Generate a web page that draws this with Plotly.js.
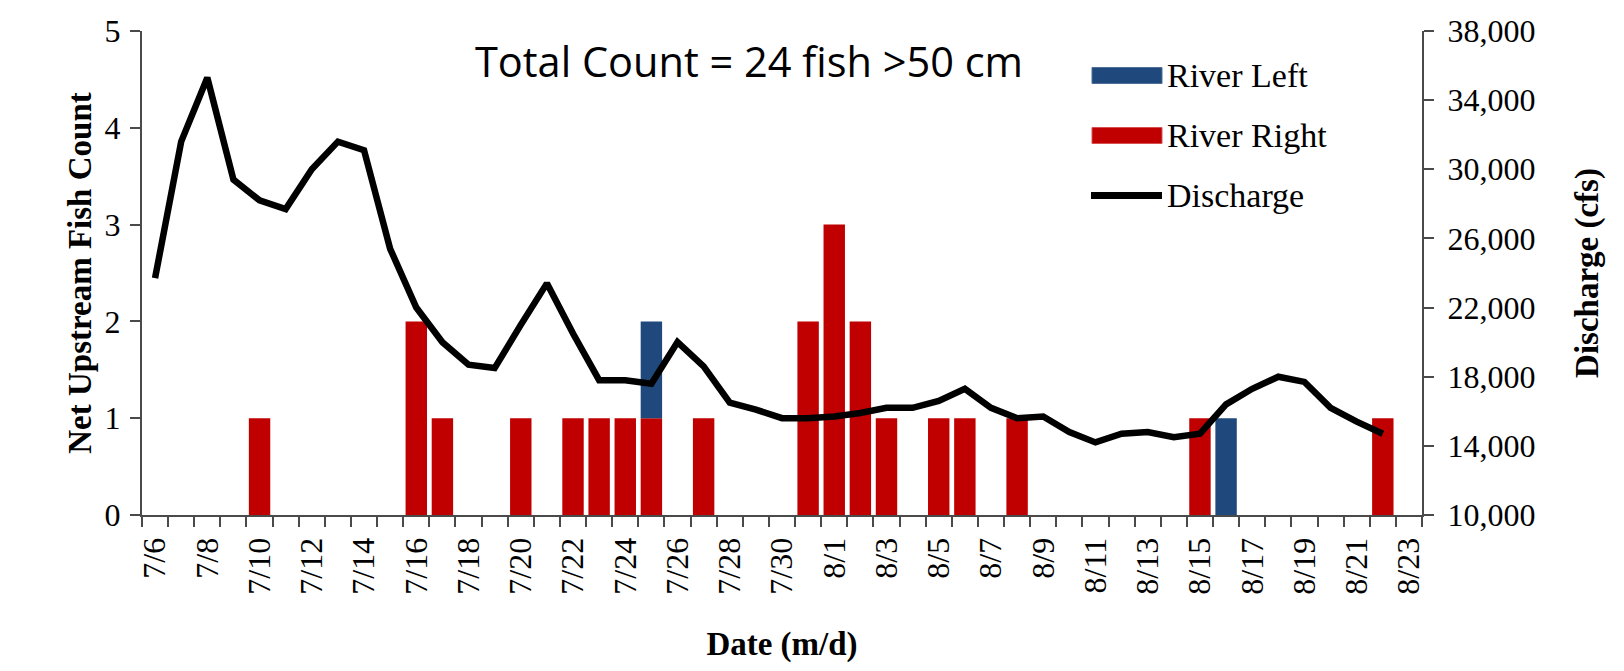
<!DOCTYPE html>
<html>
<head>
<meta charset="utf-8">
<script src="https://cdn.plot.ly/plotly-3.0.1.min.js"></script>
<style>
  html, body { margin: 0; padding: 0; background: #ffffff; }
  #chart { width: 1624px; height: 671px; }
</style>
</head>
<body>
<div id="chart"></div>
<script>
// ---- data ----
const dates = [
  "7/6","7/7","7/8","7/9","7/10","7/11","7/12","7/13","7/14","7/15",
  "7/16","7/17","7/18","7/19","7/20","7/21","7/22","7/23","7/24","7/25",
  "7/26","7/27","7/28","7/29","7/30","7/31","8/1","8/2","8/3","8/4",
  "8/5","8/6","8/7","8/8","8/9","8/10","8/11","8/12","8/13","8/14",
  "8/15","8/16","8/17","8/18","8/19","8/20","8/21","8/22","8/23"
];
const riverRight = [
  0,0,0,0,1,0,-1,0,0,0,
  2,1,0,0,1,0,1,1,1,1,
  0,1,0,0,0,2,3,2,1,0,
  1,1,0,1,0,0,0,0,0,0,
  1,0,0,0,0,0,0,1,0
];
const riverLeft = [
  0,0,0,0,0,0,0,0,0,0,
  0,0,0,0,0,0,0,0,0,1,
  0,0,0,0,0,0,0,0,0,0,
  0,0,0,0,0,0,0,0,0,0,
  0,1,0,0,0,0,0,0,0
];
const discharge = [
  23700,31600,35300,29400,28200,27700,30000,31600,31100,25400,
  22000,20000,18700,18500,21000,23400,20500,17800,17800,17600,
  20000,18600,16500,16100,15600,15600,15700,15900,16200,16200,
  16600,17300,16200,15600,15700,14800,14200,14700,14800,14500,
  14700,16400,17300,18000,17700,16200,15400,14700,null
];
const tickLabels = dates.map((d, i) => (i % 2 === 0 ? d : ""));
const legendNames = ["River Left", "River Right", "Discharge"];
const titleText = "Total Count = 24 fish >50 cm";

// ---- styling ----
const RED = "#C00000";
const BLUE = "#1F497D";
const AXIS = "#4a4a4a";
const SERIF = "'Liberation Serif', 'Times New Roman', serif";

const W = 1624, H = 671;
const M = { l: 142, r: 202, t: 31, b: 156 };
const PW = W - M.l - M.r, PH = H - M.t - M.b;
const px = x => (x - M.l) / PW;
const py = y => (H - M.b - y) / PH;

const traces = [
  { type: "bar", name: legendNames[1], x: dates, y: riverRight,
    marker: { color: RED, line: { width: 0 } }, showlegend: false, hoverinfo: "x+y+name" },
  { type: "bar", name: legendNames[0], x: dates, y: riverLeft,
    marker: { color: BLUE, line: { width: 0 } }, showlegend: false, hoverinfo: "x+y+name" },
  { type: "scatter", mode: "lines", name: legendNames[2], x: dates, y: discharge, yaxis: "y2",
    line: { color: "#000000", width: 6.5 }, showlegend: false }
];

// legend drawn in layout (paper coordinates)
const legRows = [75.5, 135.5, 195.5];
const shapes = [
  { type: "rect", xref: "paper", yref: "paper", x0: px(1092), x1: px(1162),
    y0: py(legRows[0] + 8), y1: py(legRows[0] - 8), fillcolor: BLUE, line: { width: 1, color: "#4f6f99" } },
  { type: "rect", xref: "paper", yref: "paper", x0: px(1092), x1: px(1162),
    y0: py(legRows[1] + 8), y1: py(legRows[1] - 8), fillcolor: RED, line: { width: 1, color: "#d65050" } },
  { type: "line", xref: "paper", yref: "paper", x0: px(1091), x1: px(1162),
    y0: py(legRows[2]), y1: py(legRows[2]), line: { width: 7, color: "#000000" } }
];
const annotations = legendNames.map((n, i) => ({
  xref: "paper", yref: "paper", x: px(1165), y: py(legRows[i]),
  xanchor: "left", yanchor: "middle", showarrow: false, text: n,
  font: { family: SERIF, size: 34, color: "#000000" }
}));

const layout = {
  width: W, height: H,
  margin: M,
  paper_bgcolor: "#ffffff", plot_bgcolor: "#ffffff",
  showlegend: false,
  barmode: "relative",
  bargap: 0.18,
  title: {
    text: titleText,
    font: { family: "'Open Sans', 'Noto Sans', sans-serif", size: 41.5, color: "#000000" },
    x: 749 / W, xanchor: "center", y: 1 - 62 / H, yanchor: "middle"
  },
  xaxis: {
    type: "category",
    range: [-0.5, dates.length - 0.5],
    tickmode: "array", tickvals: dates, ticktext: tickLabels,
    tickson: "boundaries",
    ticks: "outside", ticklen: 10, tickwidth: 2, tickcolor: AXIS,
    showline: true, linecolor: AXIS, linewidth: 2,
    showgrid: false, zeroline: false,
    tickangle: -90,
    ticklabelstandoff: 8,
    tickfont: { family: SERIF, size: 32, color: "#000000" },
    title: { text: "<b>Date (m/d)</b>", font: { family: SERIF, size: 33, color: "#000000" }, standoff: 38 },
    automargin: false, fixedrange: true
  },
  yaxis: {
    range: [0, 5], dtick: 1, tick0: 0,
    ticks: "outside", ticklen: 10, tickwidth: 2, tickcolor: AXIS,
    showline: true, linecolor: AXIS, linewidth: 2,
    showgrid: false, zeroline: false,
    ticklabelstandoff: 3,
    tickfont: { family: SERIF, size: 32, color: "#000000" },
    title: { text: "<b>Net Upstream Fish Count</b>", font: { family: SERIF, size: 33, color: "#000000" }, standoff: 3 },
    automargin: false, fixedrange: true
  },
  yaxis2: {
    overlaying: "y", side: "right",
    range: [10000, 38000], dtick: 4000, tick0: 10000,
    tickformat: ",d",
    ticks: "outside", ticklen: 10, tickwidth: 2, tickcolor: AXIS,
    showline: true, linecolor: AXIS, linewidth: 2,
    showgrid: false, zeroline: false,
    ticklabelstandoff: 7,
    tickfont: { family: SERIF, size: 32, color: "#000000" },
    title: { text: "<b>Discharge (cfs)</b>", font: { family: SERIF, size: 33, color: "#000000" }, standoff: 40 },
    automargin: false, fixedrange: true
  },
  shapes: shapes,
  annotations: annotations
};

Plotly.newPlot("chart", traces, layout, { displayModeBar: false, staticPlot: true });
</script>
</body>
</html>
